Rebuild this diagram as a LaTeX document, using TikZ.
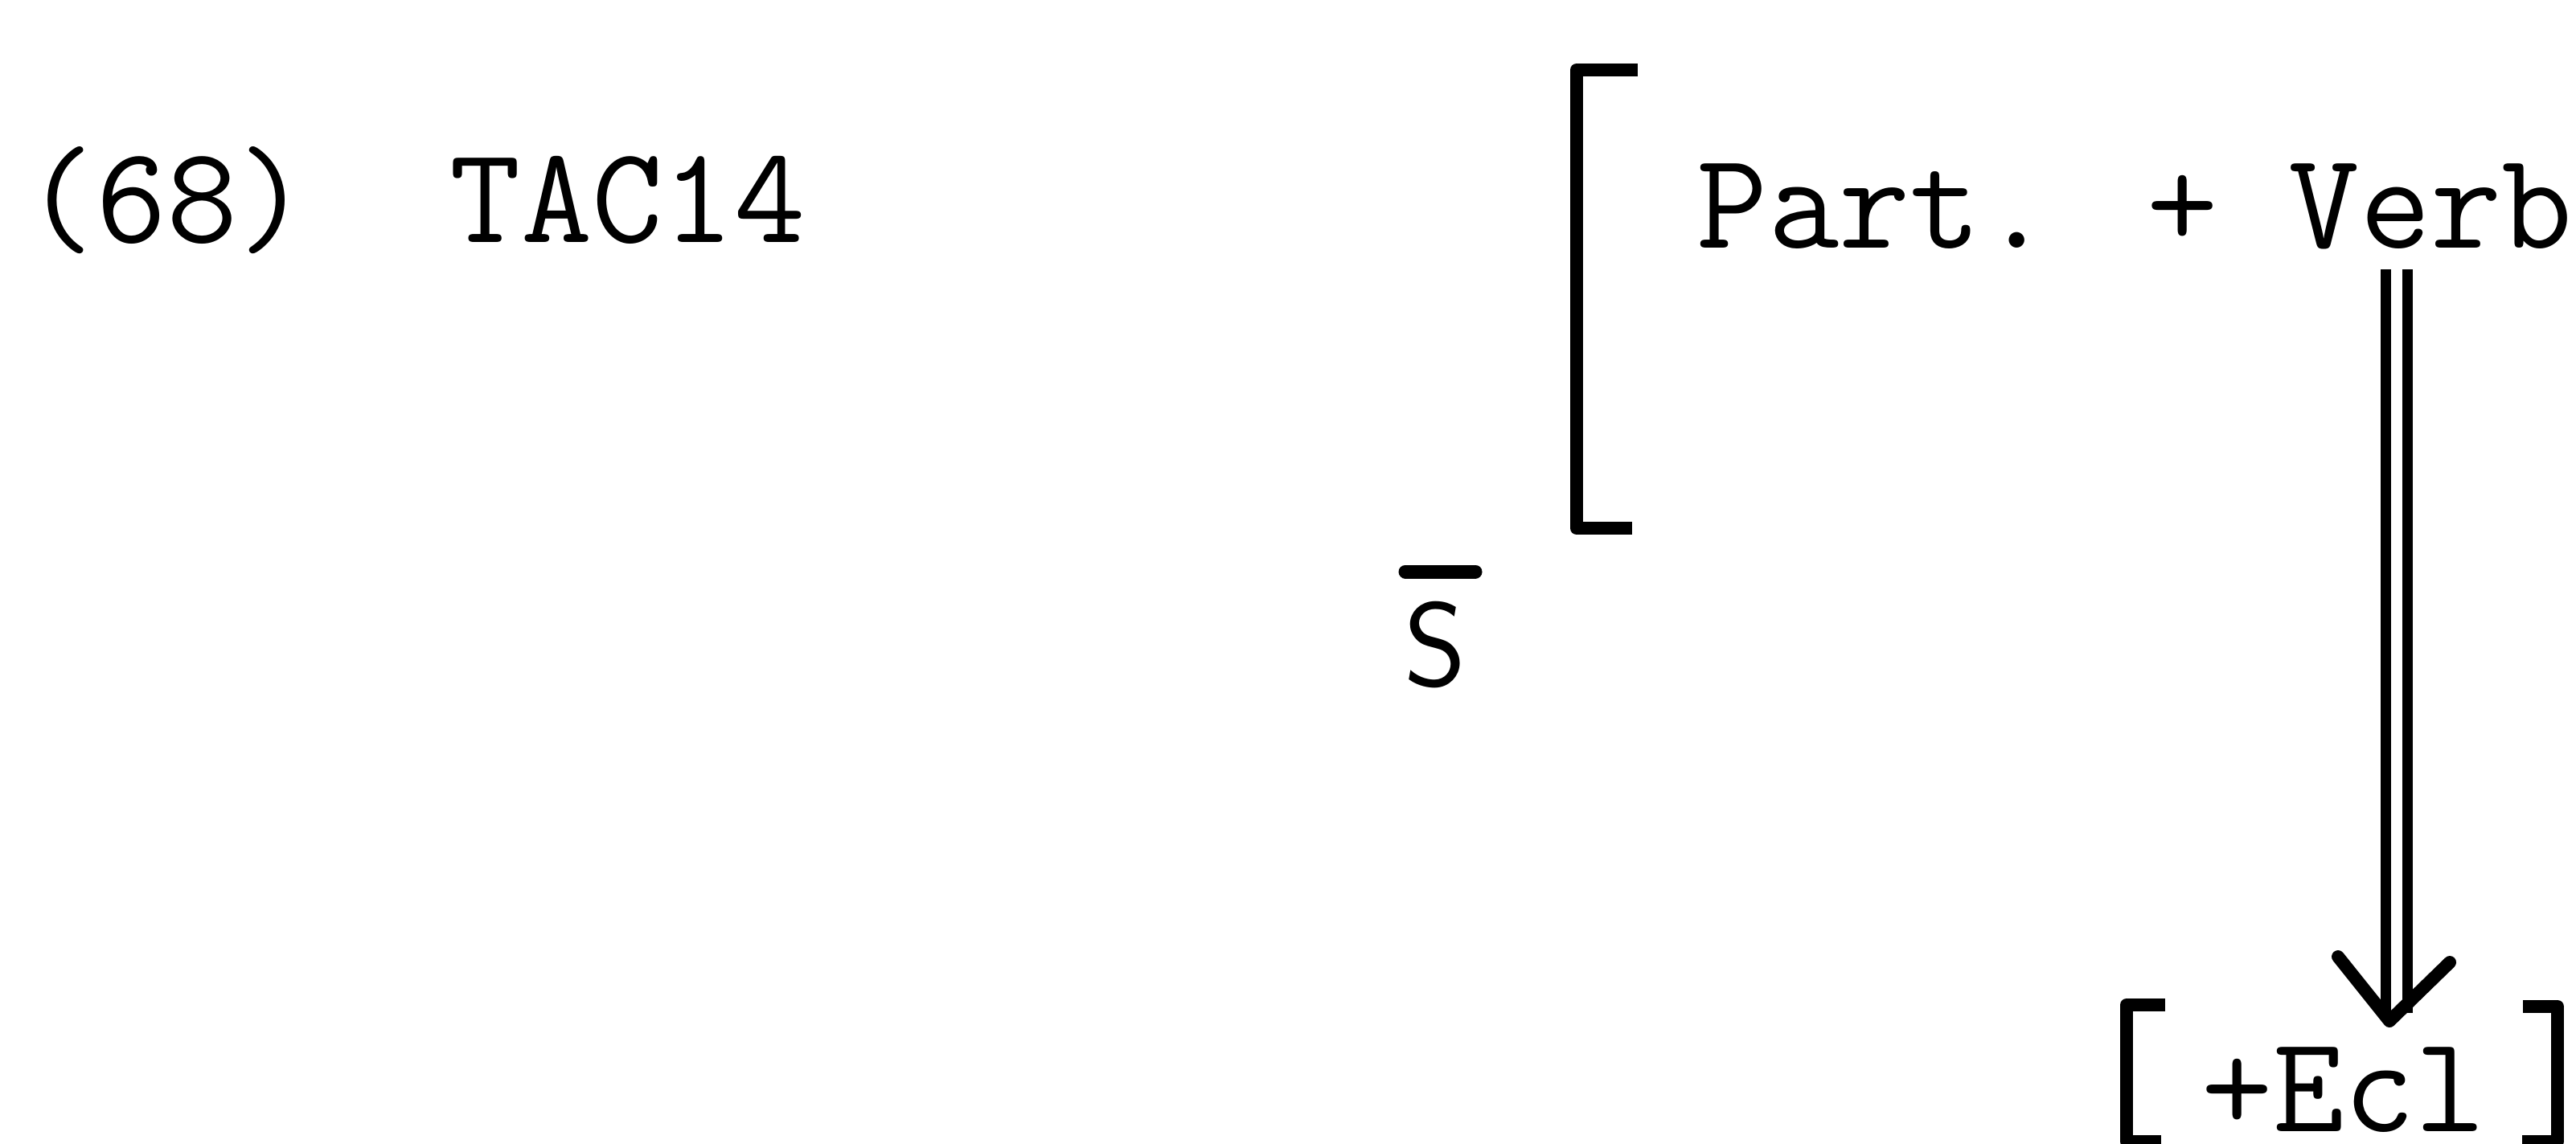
\documentclass[tikz,border=0pt]{standalone}
\usetikzlibrary{positioning, calc}
\tikzset{
  tw/.style={font=\fontsize{48.8}{58}\selectfont\ttfamily, inner sep=0pt, anchor=base west},
  brack/.style={line width=0.16cm, line join=round},
  dbl/.style={double, line width=0.13cm, double distance=0.14cm},
  head/.style={line width=0.16cm, line cap=round, line join=round},
}

\begin{document}
\begin{tikzpicture}
  \useasboundingbox (0,0) rectangle (32.04,-14.22);

  % example number and rule name
  \node[tw] (num) at (0.30,-3.01) {(68)};
  \node[tw] (rule) at (5.59,-3.01) {TAC14};

  % structural description
  \node[tw] (phrase) at (21.10,-3.08) {Part. + Verb};
  \draw[brack] (20.37,-0.87) -- (19.61,-0.87) -- (19.61,-6.57) -- (20.30,-6.57);
  \node[font=\fontsize{42.2}{50}\selectfont\sffamily, inner sep=0pt, anchor=base] (sbar) at (17.85,-8.53) {S};
  \draw[line width=0.17cm, line cap=round] (17.48,-7.11) -- (18.35,-7.11);

  % structural change
  \node[tw] (ecl) at (27.38,-14.07) {+Ecl};
  \draw[brack] (26.93,-12.50) -- (26.45,-12.50) -- (26.45,-14.20) -- (26.88,-14.20);
  \draw[brack] (31.38,-12.52) -- (31.81,-12.52) -- (31.81,-14.20) -- (31.37,-14.20);

  % double arrow from Verb to [+Ecl]
  \coordinate (atop) at (29.81,-3.35);
  \coordinate (atip) at (29.72,-12.70);
  \draw[dbl] (atop) -- (29.81,-12.60);
  \draw[head] (29.08,-11.90) -- (atip) -- (30.47,-11.97);
\end{tikzpicture}
\end{document}
